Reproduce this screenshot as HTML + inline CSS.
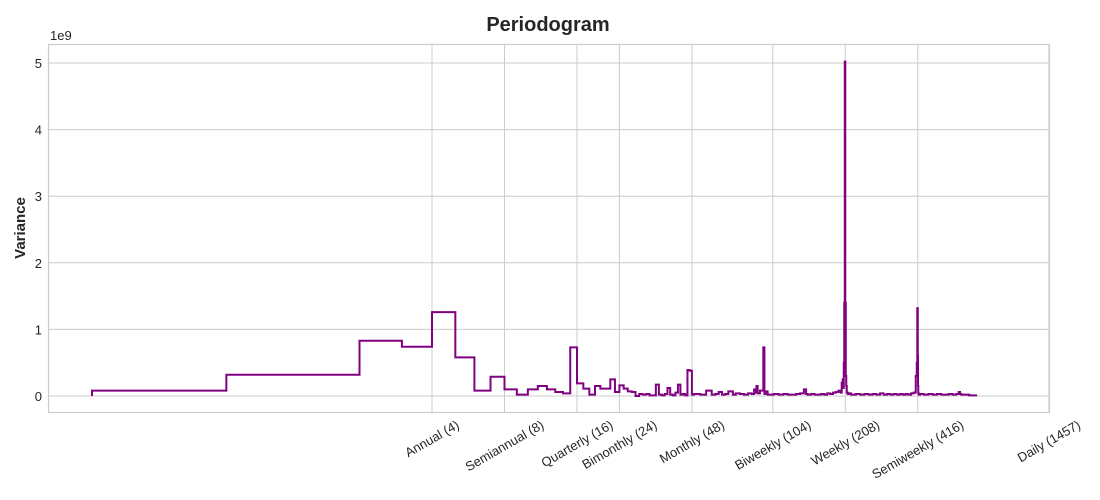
<!DOCTYPE html>
<html><head><meta charset="utf-8">
<style>
html,body{margin:0;padding:0;background:#fff;}
svg{display:block;font-family:"Liberation Sans",Arial,sans-serif;}
</style></head>
<body>
<svg id="chart" width="1100" height="500" viewBox="0 0 1100 500">
  <rect x="0" y="0" width="1100" height="500" fill="#fff"/>
  <g id="grid"></g>
  <rect x="48.5" y="44.5" width="1001" height="368" fill="none" stroke="#cccccc" stroke-width="1.2"/>
  <polyline id="series" fill="none" stroke="#800080" stroke-width="2" stroke-linejoin="miter"/>
  <g id="yticks"></g>
  <g id="xticks"></g>
  <text x="548" y="31" text-anchor="middle" font-size="20" font-weight="bold" fill="#262626">Periodogram</text>
  <text transform="translate(25,228) rotate(-90)" text-anchor="middle" font-size="15" font-weight="bold" fill="#262626">Variance</text>
  <text x="50" y="40" font-size="13" fill="#262626">1e9</text>
</svg>
<script>
const freqs = [0.155,0.56,2,3,4,5,6,7,8,9,10,11,12,13,14,15,16,17,18,19,20,21,22,23,24,25,26,27,28,29,30,31,32,33,34,35,36,37,38,39,40,41,42,43,44,45,46,47,48,49,
52,55,58,60,62,64,66,68,71,73,76,79,82,85,87,88,89,90,92,95,96,97,99,101,105,110,115,120,125,130,135,140,143,145,150,155,160,165,170,175,180,185,190,195,199,201,203,204,205,206,207,208,209,210,211,213,216,220,230,240,250,260,270,280,290,300,310,320,330,340,350,360,370,380,390,400,408,412,414,416,417,418,420,425,440,460,480,500,520,540,560,580,600,615,623,630,650,680,700,733];
const variance = [0,0.08,0.32,0.83,0.74,1.26,0.58,0.08,0.29,0.10,0.02,0.10,0.15,0.10,0.06,0.04,0.73,0.19,0.11,0.02,0.15,0.11,0.11,0.25,0.06,0.16,0.11,0.07,0.06,0.00,0.03,0.02,0.03,0.01,0.01,0.17,0.02,0.01,0.03,0.12,0.02,0.01,0.05,0.17,0.02,0.03,0.01,0.39,0.38,0.02,
0.03,0.02,0.08,0.02,0.03,0.06,0.02,0.03,0.07,0.02,0.04,0.03,0.02,0.04,0.03,0.10,0.05,0.15,0.04,0.08,0.73,0.03,0.07,0.02,0.02,0.03,0.02,0.03,0.02,0.02,0.03,0.04,0.10,0.03,0.02,0.03,0.02,0.02,0.03,0.02,0.04,0.03,0.05,0.06,0.08,0.05,0.20,0.25,0.12,0.50,1.4,5.02,1.4,0.3,0.15,0.05,0.03,0.04,0.02,0.03,0.02,0.03,0.02,0.03,0.02,0.04,0.02,0.03,0.02,0.03,0.02,0.03,0.02,0.03,0.02,0.04,0.05,0.30,0.50,1.32,0.6,0.15,0.04,0.02,0.03,0.02,0.03,0.02,0.03,0.02,0.02,0.03,0.02,0.03,0.06,0.03,0.02,0.02,0.01,0.01];
const xTickValues = [4,8,16,24,48,104,208,416,1457];
const xTickLabels = ["Annual (4)","Semiannual (8)","Quarterly (16)","Bimonthly (24)","Monthly (48)","Biweekly (104)","Weekly (208)","Semiweekly (416)","Daily (1457)"];
const yTickValues = [0,1,2,3,4,5];

const NS = "http://www.w3.org/2000/svg";
function xs(f){ return 432 + 72.5*Math.log2(f/4); }
function ys(v){ return 396 - 66.6*v; }

const grid = document.getElementById('grid');
const yt = document.getElementById('yticks');
yTickValues.forEach(v=>{
  const l = document.createElementNS(NS,'line');
  l.setAttribute('x1',48.5); l.setAttribute('x2',1049.5);
  l.setAttribute('y1',ys(v)); l.setAttribute('y2',ys(v));
  l.setAttribute('stroke','#cccccc'); l.setAttribute('stroke-width','1');
  
  
  grid.appendChild(l);
  const t = document.createElementNS(NS,'text');
  t.setAttribute('x',42); t.setAttribute('y',ys(v)+5);
  t.setAttribute('text-anchor','end'); t.setAttribute('font-size','13'); t.setAttribute('fill','#262626');
  t.textContent = v;
  
  
  yt.appendChild(t);
});
const xt = document.getElementById('xticks');
xTickValues.forEach((f,i)=>{
  const x = xs(f);
  const l = document.createElementNS(NS,'line');
  l.setAttribute('x1',x); l.setAttribute('x2',x);
  l.setAttribute('y1',44.5); l.setAttribute('y2',412.5);
  l.setAttribute('stroke','#cccccc'); l.setAttribute('stroke-width','1');
  
  
  grid.appendChild(l);
  const t = document.createElementNS(NS,'text');
  t.setAttribute('text-anchor','middle'); t.setAttribute('dominant-baseline','central');
  t.setAttribute('font-size','13'); t.setAttribute('fill','#262626');
  t.textContent = xTickLabels[i];
  
  
  xt.appendChild(t);
  const L = t.getComputedTextLength();
  const h = L*0.5 + 13*0.866;
  t.setAttribute('transform','translate('+x+','+(418+h/2)+') rotate(-30)');
});

// step 'pre' line
let pts = [];
for(let i=0;i<freqs.length;i++){
  const x = xs(freqs[i]), y = ys(variance[i]);
  if(i>0){ pts.push(xs(freqs[i-1]).toFixed(2)+','+y.toFixed(2)); }
  pts.push(x.toFixed(2)+','+y.toFixed(2));
}
document.getElementById('series').setAttribute('points', pts.join(' '));
</script>
</body></html>
